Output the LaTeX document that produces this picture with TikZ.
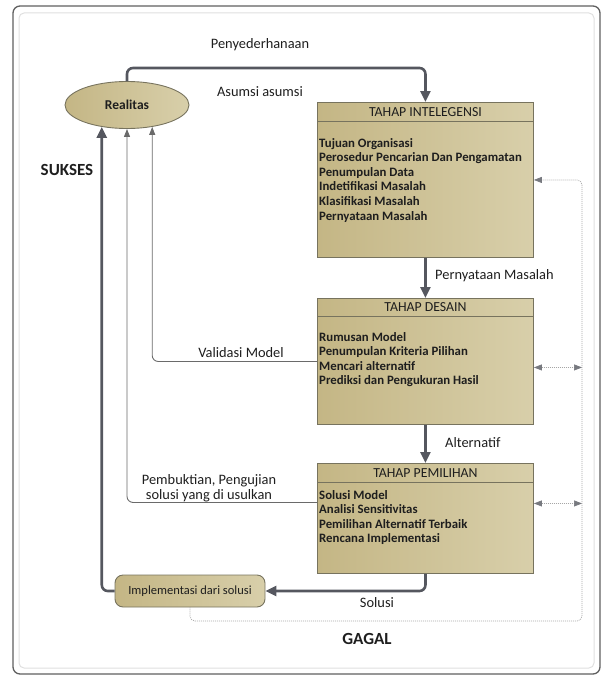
\documentclass[tikz,border=0pt]{standalone}
\usepackage{fontspec}
\setmainfont{Carlito}
\usetikzlibrary{arrows.meta,shapes.geometric,calc}
\definecolor{arr}{HTML}{55575F}
\definecolor{thinln}{HTML}{6A6A6A}
\definecolor{boxL}{HTML}{C4B685}
\definecolor{boxR}{HTML}{D8CFAA}
\definecolor{boxbd}{HTML}{77735E}
\definecolor{txt}{HTML}{1E1E1E}
\tikzset{
  stagebox/.style={draw=boxbd, line width=0.9pt, left color=boxL, right color=boxR, minimum width=216pt, anchor=north west, inner sep=0pt},
  hdr/.style={font=\fontsize{13.8}{14}\selectfont, text=txt},
  body/.style={font=\fontsize{12.8}{14.6}\selectfont\bfseries, text=txt, align=left, anchor=north west, inner sep=0pt},
  lbl/.style={font=\fontsize{14.4}{15}\selectfont, text=txt, align=center, inner sep=0pt},
  big/.style={font=\fontsize{17}{19}\selectfont\bfseries, text=txt},
  thickarr/.style={draw=arr, line width=2.6pt, -{Triangle[length=11pt,width=10pt]}, rounded corners=6pt},
  thinarr/.style={draw=thinln, line width=0.9pt, -{Triangle[length=8pt,width=6pt]}, rounded corners=6pt},
  dotln/.style={draw=gray!70, line width=0.7pt, dash pattern=on 1pt off 1pt, rounded corners=5pt},
  dottip/.style={{Triangle[length=8pt,width=6pt,color=arr!80]}-{Triangle[length=8pt,width=6pt,color=arr!80]}}
}
\begin{document}
\begin{tikzpicture}[x=1pt,y=-1pt]
\useasboundingbox (0,0) rectangle (604,677);
% frame
\draw[draw=gray!75!black, line width=1.3pt, rounded corners=7pt] (13,6) rectangle (600,674);
\draw[draw=gray!25, line width=1pt, rounded corners=5pt] (19,13) rectangle (594,668);

% Realitas
\node[ellipse, draw=boxbd, line width=0.9pt, left color=boxL, right color=boxR, minimum width=124pt, minimum height=47pt, inner sep=0pt, font=\fontsize{13.5}{14}\selectfont\bfseries, text=txt] (real) at (127,105) {Realitas};

% stage boxes
\node[stagebox, minimum height=155pt] (int) at (317,102) {};
\draw[boxbd, line width=0.9pt] ($(int.north west)+(0,19)$) -- ($(int.north east)+(0,19)$);
\node[hdr] (inth) at ($(int.north)+(0,10)$) {TAHAP INTELEGENSI};
\node[body] (intt) at ($(int.north west)+(2,36)$) {Tujuan Organisasi\\Perosedur Pencarian Dan Pengamatan\\Penumpulan Data\\Indetifikasi Masalah\\Klasifikasi Masalah\\Pernyataan Masalah};

\node[stagebox, minimum height=126pt] (des) at (317,298) {};
\draw[boxbd, line width=0.9pt] ($(des.north west)+(0,18)$) -- ($(des.north east)+(0,18)$);
\node[hdr] (desh) at ($(des.north)+(0,9)$) {TAHAP DESAIN};
\node[body] (dest) at ($(des.north west)+(2,34)$) {Rumusan Model\\Penumpulan Kriteria Pilihan\\Mencari alternatif\\Prediksi dan Pengukuran Hasil};

\node[stagebox, minimum height=110pt] (pem) at (317,463) {};
\draw[boxbd, line width=0.9pt] ($(pem.north west)+(0,19)$) -- ($(pem.north east)+(0,19)$);
\node[hdr] (pemh) at ($(pem.north)+(0,10)$) {TAHAP PEMILIHAN};
\node[body] (pemt) at ($(pem.north west)+(2,27)$) {Solusi Model\\Analisi Sensitivitas\\Pemilihan Alternatif Terbaik\\Rencana Implementasi};

% Implementasi
\node[draw=boxbd, line width=0.9pt, left color=boxL, right color=boxR, rounded corners=8pt, minimum width=150pt, minimum height=32pt, inner sep=0pt, font=\fontsize{12.5}{13}\selectfont, text=txt] (impl) at (190,591) {Implementasi dari solusi};

% main flow
\draw[thickarr] (real.north) |- ($(int.north)+(0,-34)$) -- (int.north);
\draw[thickarr, rounded corners=0pt] (int.south) -- (des.north);
\draw[thickarr, rounded corners=0pt] (des.south) -- (pem.north);
\draw[thickarr] (pem.south) |- (impl.east);
\draw[thickarr] (impl.west) -| (real.221);

% feedback lines
\draw[thinarr] (des.west) -| (real.319);
\draw[thinarr] ([yshift=16pt]pem.west) -| (real.south);

% dotted failure loop
\coordinate (gc) at (582,621);
\draw[dotln, -{Triangle[length=8pt,width=6pt,color=arr!80]}] (impl.south) |- (gc) |- (int.east);
\draw[dotln, dottip, rounded corners=0pt] ([yshift=-6pt]des.east) -- ([yshift=-6pt]des.east -| gc);
\draw[dotln, dottip, rounded corners=0pt] ([yshift=15pt]pem.east) -- ([yshift=15pt]pem.east -| gc);

% labels
\node[lbl] (l1) at (260,45) {Penyederhanaan};
\node[lbl] (l2) at (260,92) {Asumsi asumsi};
\node[lbl, anchor=west] (l3) at (435,276) {Pernyataan Masalah};
\node[lbl, anchor=west] (l4) at (445,443) {Alternatif};
\node[lbl] (l5) at (241,353) {Validasi Model};
\node[lbl, align=center] (l6) at (209,488) {Pembuktian, Pengujian\\solusi yang di usulkan};
\node[lbl] (l7) at (377,603) {Solusi};
\node[big] (l8) at (67,170) {SUKSES};
\node[big] (l9) at (367,639) {GAGAL};
\end{tikzpicture}
\end{document}
